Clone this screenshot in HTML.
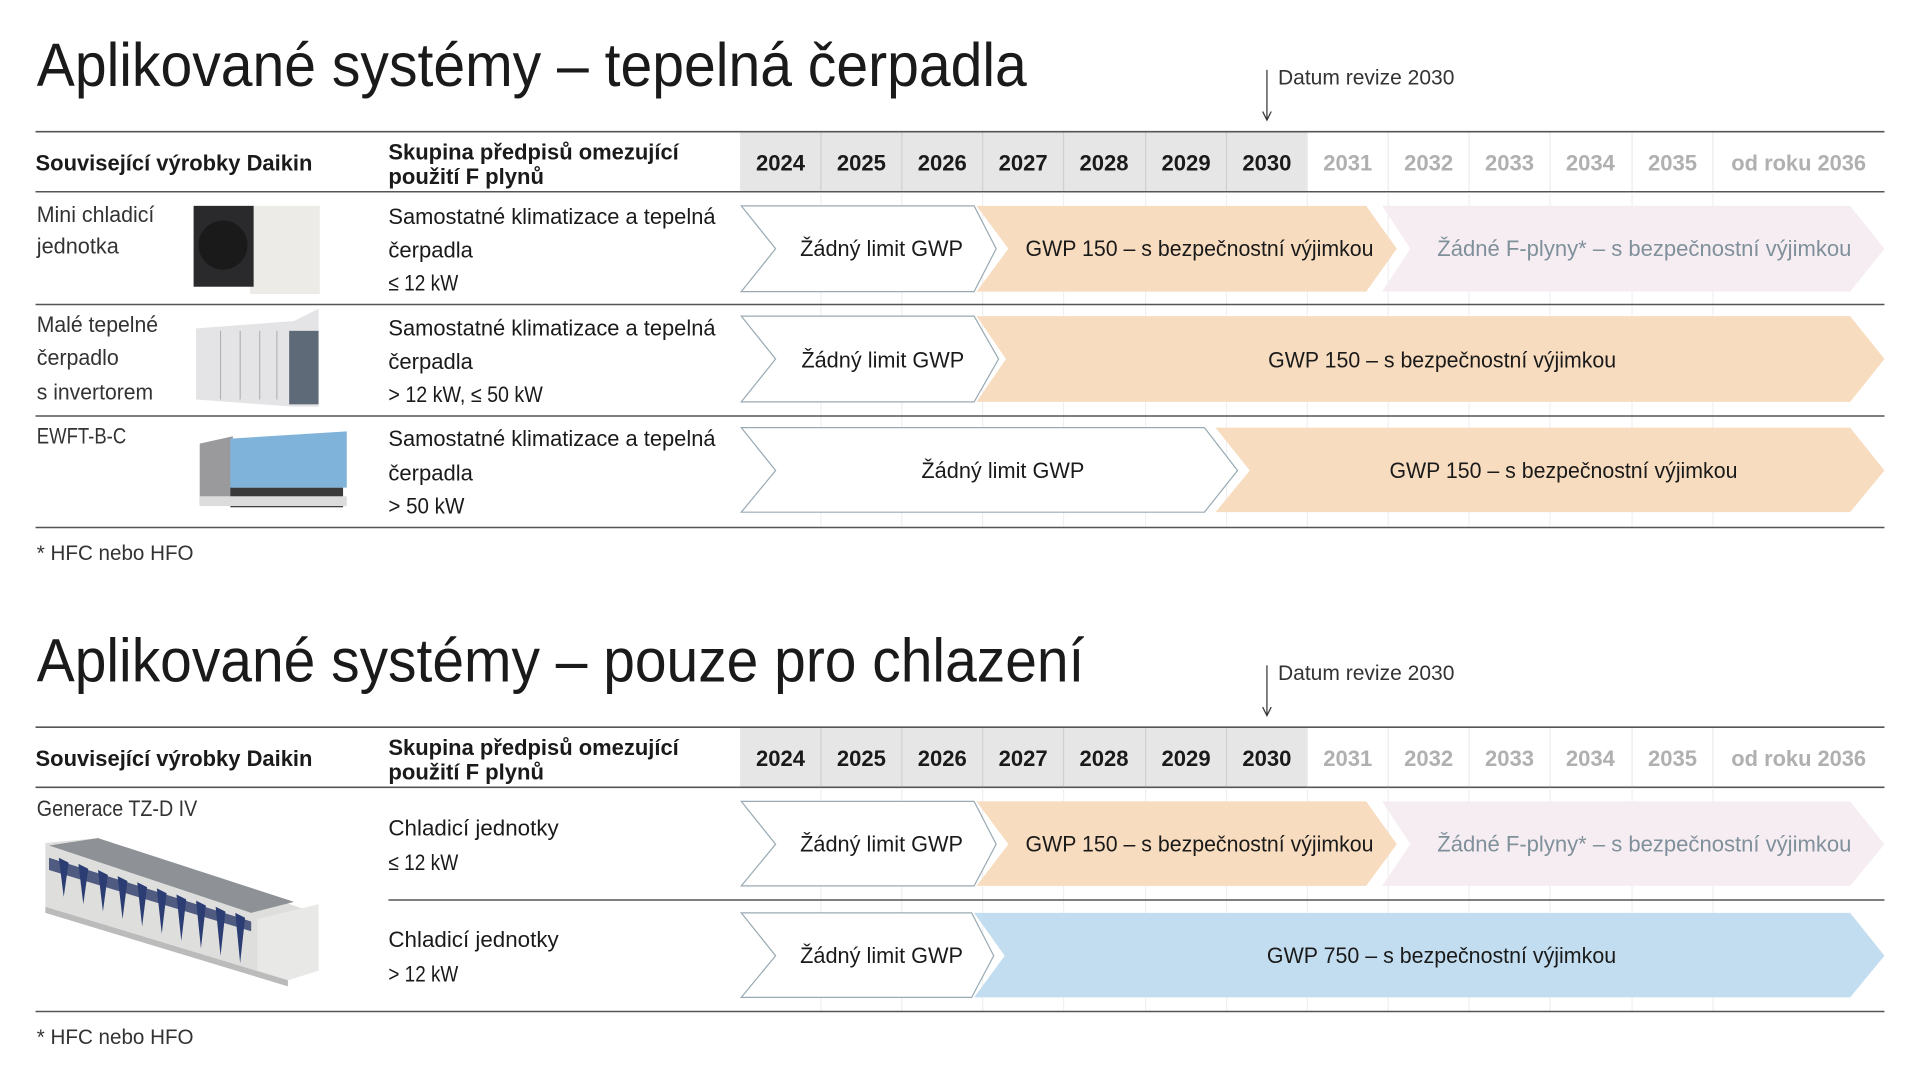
<!DOCTYPE html>
<html><head><meta charset="utf-8"><style>html,body{margin:0;padding:0;background:#fff}svg{display:block}text{font-family:"Liberation Sans",sans-serif}</style></head><body>
<svg width="1920" height="1080" viewBox="0 0 1567 881.4" preserveAspectRatio="none" xmlns="http://www.w3.org/2000/svg">
<defs>
<g id="hdr">
<rect x="604" y="108" width="463" height="48" fill="#e6e6e6"/>
<g stroke="#d0d0d0" stroke-width="1">
<line x1="670" y1="108" x2="670" y2="156"/><line x1="736" y1="108" x2="736" y2="156"/><line x1="802" y1="108" x2="802" y2="156"/><line x1="868" y1="108" x2="868" y2="156"/><line x1="935" y1="108" x2="935" y2="156"/><line x1="1001" y1="108" x2="1001" y2="156"/>
</g>
<g stroke="#ececec" stroke-width="1">
<line x1="1067" y1="108" x2="1067" y2="156"/><line x1="1133" y1="108" x2="1133" y2="156"/><line x1="1199" y1="108" x2="1199" y2="156"/><line x1="1265" y1="108" x2="1265" y2="156"/><line x1="1332" y1="108" x2="1332" y2="156"/><line x1="1398" y1="108" x2="1398" y2="156"/>
</g>
<line x1="29" y1="107.5" x2="1538" y2="107.5" stroke="#555" stroke-width="1.3"/>
<line x1="29" y1="156.5" x2="1538" y2="156.5" stroke="#555" stroke-width="1.3"/>
<line x1="1034" y1="57" x2="1034" y2="97" stroke="#333" stroke-width="1"/>
<path d="M1030.5 91 L1034 98 L1037.5 91" fill="none" stroke="#333" stroke-width="1"/>
<text x="1043" y="69" font-size="17" fill="#333" textLength="144" lengthAdjust="spacingAndGlyphs">Datum revize 2030</text>
<g font-size="18" font-weight="bold" fill="#1a1a1a">
<text x="29" y="139" textLength="226" lengthAdjust="spacingAndGlyphs">Související výrobky Daikin</text>
<text x="317" y="130" textLength="237" lengthAdjust="spacingAndGlyphs">Skupina předpisů omezující</text>
<text x="317" y="150" textLength="127" lengthAdjust="spacingAndGlyphs">použití F plynů</text>
</g>
<g font-size="18" font-weight="bold" text-anchor="middle" fill="#1a1a1a">
<text x="637" y="139">2024</text><text x="703" y="139">2025</text><text x="769" y="139">2026</text><text x="835" y="139">2027</text><text x="901" y="139">2028</text><text x="968" y="139">2029</text><text x="1034" y="139">2030</text>
</g>
<g font-size="18" font-weight="bold" text-anchor="middle" fill="#b0b0b0">
<text x="1100" y="139">2031</text><text x="1166" y="139">2032</text><text x="1232" y="139">2033</text><text x="1298" y="139">2034</text><text x="1365" y="139">2035</text><text x="1468" y="139" textLength="110" lengthAdjust="spacingAndGlyphs">od roku 2036</text>
</g>
</g>
</defs>

<!-- SECTION 1 -->
<text x="30" y="70" font-size="50" fill="#1a1a1a" textLength="808" lengthAdjust="spacingAndGlyphs">Aplikované systémy – tepelná čerpadla</text>
<use href="#hdr"/>
<g stroke="#f0f0f0" stroke-width="1">
<line x1="670" y1="157" x2="670" y2="430"/><line x1="736" y1="157" x2="736" y2="430"/><line x1="802" y1="157" x2="802" y2="430"/><line x1="868" y1="157" x2="868" y2="430"/><line x1="935" y1="157" x2="935" y2="430"/><line x1="1001" y1="157" x2="1001" y2="430"/><line x1="1067" y1="157" x2="1067" y2="430"/><line x1="1133" y1="157" x2="1133" y2="430"/><line x1="1199" y1="157" x2="1199" y2="430"/><line x1="1265" y1="157" x2="1265" y2="430"/><line x1="1332" y1="157" x2="1332" y2="430"/><line x1="1398" y1="157" x2="1398" y2="430"/>
</g>
<g stroke="#555" stroke-width="1.3">
<line x1="29" y1="248.5" x2="1538" y2="248.5"/><line x1="29" y1="339.5" x2="1538" y2="339.5"/><line x1="29" y1="430.5" x2="1538" y2="430.5"/>
</g>
<!-- row1 -->
<polygon points="605,168 795,168 813,203 795,238 605,238 633,203" fill="#fff" stroke="#9aaab3" stroke-width="1"/>
<polygon points="797,168 1115,168 1140,203 1115,238 797,238 823,203" fill="#f8dcbf"/>
<polygon points="1128,168 1510,168 1538,203 1510,238 1128,238 1151,203" fill="#f6edf3"/>
<!-- row2 -->
<polygon points="605,258 795,258 815,293 795,328 605,328 633,293" fill="#fff" stroke="#9aaab3" stroke-width="1"/>
<polygon points="797,258 1510,258 1538,293 1510,328 797,328 821,293" fill="#f8dcbf"/>
<!-- row3 -->
<polygon points="605,349 983,349 1010,384 983,418 605,418 633,384" fill="#fff" stroke="#9aaab3" stroke-width="1"/>
<polygon points="992,349 1510,349 1538,384 1510,418 992,418 1020,384" fill="#f8dcbf"/>
<g font-size="18" fill="#1a1a1a">
<text x="653" y="209" textLength="133" lengthAdjust="spacingAndGlyphs">Žádný limit GWP</text>
<text x="837" y="209" textLength="284" lengthAdjust="spacingAndGlyphs">GWP 150 – s bezpečnostní výjimkou</text>
<text x="1173" y="209" textLength="338" lengthAdjust="spacingAndGlyphs" fill="#7f909a">Žádné F-plyny* – s bezpečnostní výjimkou</text>
<text x="654" y="300" textLength="133" lengthAdjust="spacingAndGlyphs">Žádný limit GWP</text>
<text x="1035" y="300" textLength="284" lengthAdjust="spacingAndGlyphs">GWP 150 – s bezpečnostní výjimkou</text>
<text x="752" y="390" textLength="133" lengthAdjust="spacingAndGlyphs">Žádný limit GWP</text>
<text x="1134" y="390" textLength="284" lengthAdjust="spacingAndGlyphs">GWP 150 – s bezpečnostní výjimkou</text>
</g>
<g font-size="18" fill="#333">
<text x="30" y="181" textLength="96" lengthAdjust="spacingAndGlyphs">Mini chladicí</text>
<text x="30" y="207" textLength="67" lengthAdjust="spacingAndGlyphs">jednotka</text>
<text x="30" y="271" textLength="99" lengthAdjust="spacingAndGlyphs">Malé tepelné</text>
<text x="30" y="298" textLength="67" lengthAdjust="spacingAndGlyphs">čerpadlo</text>
<text x="30" y="326" textLength="95" lengthAdjust="spacingAndGlyphs">s invertorem</text>
<text x="30" y="362" textLength="73" lengthAdjust="spacingAndGlyphs">EWFT-B-C</text>
</g>
<g font-size="18" fill="#1a1a1a">
<text x="317" y="183" textLength="267" lengthAdjust="spacingAndGlyphs">Samostatné klimatizace a tepelná</text>
<text x="317" y="210" textLength="69" lengthAdjust="spacingAndGlyphs">čerpadla</text>
<text x="317" y="237" textLength="57" lengthAdjust="spacingAndGlyphs">≤ 12 kW</text>
<text x="317" y="274" textLength="267" lengthAdjust="spacingAndGlyphs">Samostatné klimatizace a tepelná</text>
<text x="317" y="301" textLength="69" lengthAdjust="spacingAndGlyphs">čerpadla</text>
<text x="317" y="328" textLength="126" lengthAdjust="spacingAndGlyphs">&gt; 12 kW, ≤ 50 kW</text>
<text x="317" y="364" textLength="267" lengthAdjust="spacingAndGlyphs">Samostatné klimatizace a tepelná</text>
<text x="317" y="392" textLength="69" lengthAdjust="spacingAndGlyphs">čerpadla</text>
<text x="317" y="419" textLength="62" lengthAdjust="spacingAndGlyphs">&gt; 50 kW</text>
</g>
<text x="30" y="457" font-size="17" fill="#333" textLength="128" lengthAdjust="spacingAndGlyphs">* HFC nebo HFO</text>
<!-- product images -->
<rect x="204" y="168" width="57" height="72" fill="#ecebe8"/>
<rect x="158" y="168" width="49" height="66" fill="#2a2a2c"/>
<circle cx="182" cy="200" r="20" fill="#1a1a1a"/>
<polygon points="160,268 240,262 260,252 260,332 240,332 160,326" fill="#e4e4e6"/>
<rect x="236" y="270" width="24" height="60" fill="#5e6a78"/>
<g stroke="#aaa" stroke-width="0.8"><line x1="180" y1="270" x2="180" y2="326"/><line x1="196" y1="270" x2="196" y2="326"/><line x1="212" y1="270" x2="212" y2="326"/><line x1="226" y1="270" x2="226" y2="326"/></g>
<polygon points="163,362 190,356 190,410 163,412" fill="#9a9a9c"/>
<polygon points="188,358 283,352 283,398 188,398" fill="#7fb3d9"/>
<rect x="188" y="398" width="92" height="16" fill="#3a3a3a"/>
<rect x="163" y="405" width="120" height="8" fill="#dcdcdc"/>

<!-- SECTION 2 -->
<text x="30" y="556" font-size="50" fill="#1a1a1a" textLength="855" lengthAdjust="spacingAndGlyphs">Aplikované systémy – pouze pro chlazení</text>
<use href="#hdr" transform="translate(0,486)"/>
<g stroke="#f0f0f0" stroke-width="1">
<line x1="670" y1="643" x2="670" y2="825"/><line x1="736" y1="643" x2="736" y2="825"/><line x1="802" y1="643" x2="802" y2="825"/><line x1="868" y1="643" x2="868" y2="825"/><line x1="935" y1="643" x2="935" y2="825"/><line x1="1001" y1="643" x2="1001" y2="825"/><line x1="1067" y1="643" x2="1067" y2="825"/><line x1="1133" y1="643" x2="1133" y2="825"/><line x1="1199" y1="643" x2="1199" y2="825"/><line x1="1265" y1="643" x2="1265" y2="825"/><line x1="1332" y1="643" x2="1332" y2="825"/><line x1="1398" y1="643" x2="1398" y2="825"/>
</g>
<g stroke="#555" stroke-width="1.3">
<line x1="317" y1="734.5" x2="1538" y2="734.5"/><line x1="29" y1="825.5" x2="1538" y2="825.5"/>
</g>
<polygon points="605,654 795,654 813,689 795,723 605,723 633,689" fill="#fff" stroke="#9aaab3" stroke-width="1"/>
<polygon points="797,654 1115,654 1140,689 1115,723 797,723 823,689" fill="#f8dcbf"/>
<polygon points="1128,654 1510,654 1538,689 1510,723 1128,723 1151,689" fill="#f6edf3"/>
<polygon points="605,745 793,745 811,780 793,814 605,814 633,780" fill="#fff" stroke="#9aaab3" stroke-width="1"/>
<polygon points="795,745 1510,745 1538,780 1510,814 795,814 820,780" fill="#c3ddf0"/>
<g font-size="18" fill="#1a1a1a">
<text x="653" y="695" textLength="133" lengthAdjust="spacingAndGlyphs">Žádný limit GWP</text>
<text x="837" y="695" textLength="284" lengthAdjust="spacingAndGlyphs">GWP 150 – s bezpečnostní výjimkou</text>
<text x="1173" y="695" textLength="338" lengthAdjust="spacingAndGlyphs" fill="#7f909a">Žádné F-plyny* – s bezpečnostní výjimkou</text>
<text x="653" y="786" textLength="133" lengthAdjust="spacingAndGlyphs">Žádný limit GWP</text>
<text x="1034" y="786" textLength="285" lengthAdjust="spacingAndGlyphs">GWP 750 – s bezpečnostní výjimkou</text>
<text x="317" y="682" textLength="139" lengthAdjust="spacingAndGlyphs">Chladicí jednotky</text>
<text x="317" y="710" textLength="57" lengthAdjust="spacingAndGlyphs">≤ 12 kW</text>
<text x="317" y="773" textLength="139" lengthAdjust="spacingAndGlyphs">Chladicí jednotky</text>
<text x="317" y="801" textLength="57" lengthAdjust="spacingAndGlyphs">&gt; 12 kW</text>
</g>
<text x="30" y="666" font-size="18" fill="#333" textLength="131" lengthAdjust="spacingAndGlyphs">Generace TZ-D IV</text>
<text x="30" y="852" font-size="17" fill="#333" textLength="128" lengthAdjust="spacingAndGlyphs">* HFC nebo HFO</text>
<!-- chiller image -->
<polygon points="37,688 80,684 260,746 260,792 235,800 37,740" fill="#dededc"/>
<polygon points="40,690 80,684 240,736 205,745" fill="#8e9296"/>
<polygon points="40,700 205,752 205,760 40,710" fill="#2a3a6a" opacity="0.8"/>
<g fill="#2b3d73"><polygon points="48,700 52,732 56,704"/><polygon points="64,705 68,738 72,709"/><polygon points="80,710 84,744 88,714"/><polygon points="96,715 100,750 104,719"/><polygon points="112,720 116,756 120,724"/><polygon points="128,725 132,762 136,729"/><polygon points="144,730 148,768 152,734"/><polygon points="160,735 164,774 168,739"/><polygon points="176,740 180,780 184,744"/><polygon points="192,745 196,786 200,749"/></g>
<polygon points="210,750 260,738 260,792 235,800 210,792" fill="#e8e8e6"/>
<polygon points="37,740 235,800 235,805 37,745" fill="#bbb"/>
</svg>
</body></html>
